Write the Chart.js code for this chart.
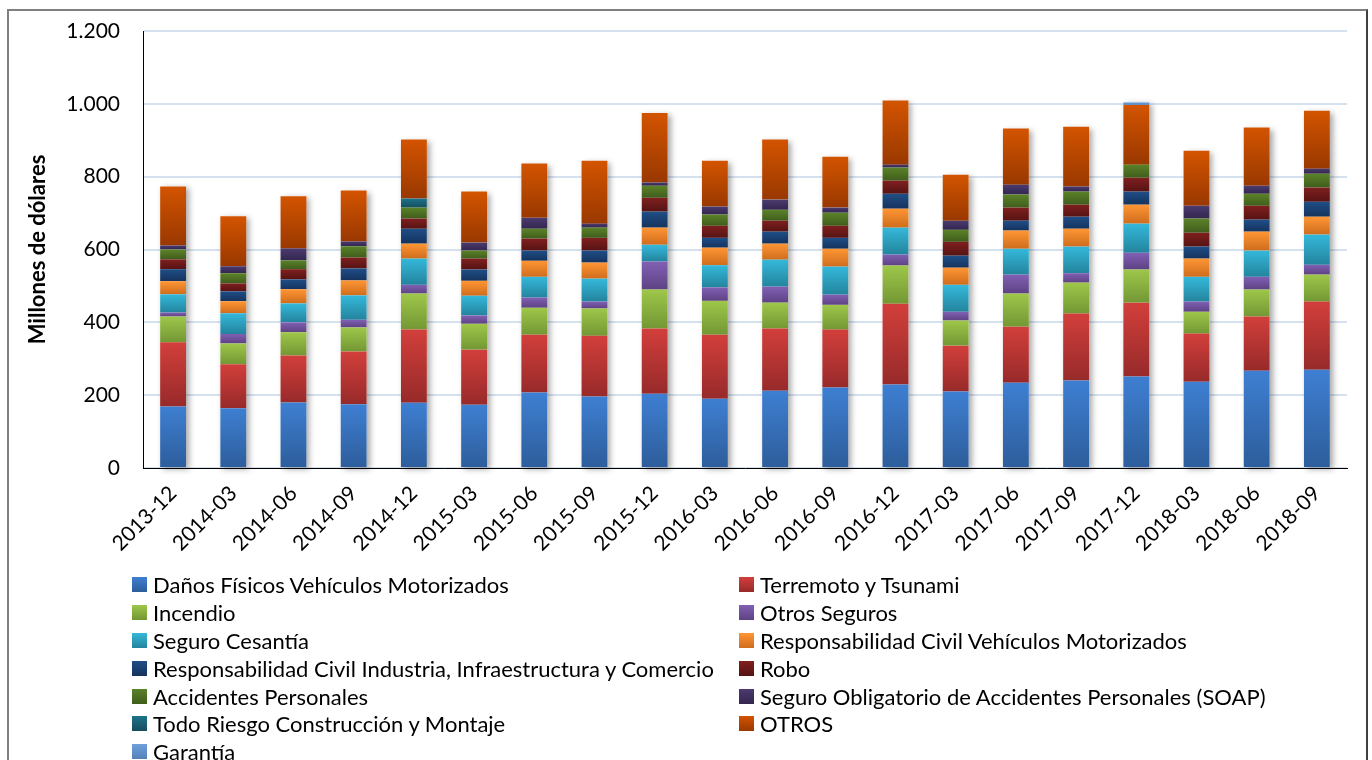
<!DOCTYPE html>
<html>
<head>
<meta charset="utf-8">
<script src="https://cdn.jsdelivr.net/npm/chart.js@4.4.1/dist/chart.umd.min.js"></script>
<style>
  body { margin: 0; background: #fff; width: 1372px; height: 760px; overflow: hidden; position: relative; font-family: Lato, "Open Sans", sans-serif; }
  #frame { position: absolute; left: 7px; top: 9px; width: 1357px; height: 800px; border: 2px solid #808080; border-right-color: #404040; }
  #wrap { position: absolute; left: 0; top: 0; width: 1372px; height: 760px; }
  #wrap canvas { display: block; }
  #legend { position: absolute; left: 132px; top: 571px; display: grid; grid-template-columns: 607px auto; grid-auto-rows: 27.8px; font-size: 22px; color: #000; }
  .item { display: flex; align-items: center; white-space: nowrap; }
  .box { width: 15px; height: 15px; margin-right: 6px; flex: none; }
</style>
</head>
<body>
<div id="frame"></div>
<div id="wrap"><canvas id="chart" width="1372" height="760"></canvas></div>
<div id="legend"></div>
<script>
const periods = ['2013-12','2014-03','2014-06','2014-09','2014-12','2015-03','2015-06','2015-09','2015-12','2016-03',
                 '2016-06','2016-09','2016-12','2017-03','2017-06','2017-09','2017-12','2018-03','2018-06','2018-09'];

// millones de dólares
const danos       = [169,164,180,175,179,174,207,196,204,190,212,221,229,210,234,240,251,237,267,270];
const terremoto   = [176,121,129,145,201,151,159,167,179,176,171,159,222,126,154,184,203,132,149,187];
const incendio    = [71,57,64,66,99,71,74,75,107,93,71,68,105,69,91,85,91,60,74,74];
const otrosSeg    = [11,26,27,21,24,23,28,19,77,37,44,28,30,24,52,26,46,28,35,27];
const cesantia    = [50,57,52,67,72,54,57,63,46,61,74,77,74,74,71,73,80,68,72,83];
const rcVehiculos = [36,33,39,41,41,41,44,44,47,48,44,49,52,47,50,49,52,50,52,49];
const rcIndustria = [33,27,27,33,41,31,28,33,44,27,33,30,41,33,27,33,36,33,33,41];
const robo        = [27,22,28,30,28,30,33,35,38,33,30,33,36,38,36,33,38,38,38,39];
const accPers     = [27,28,24,31,30,22,27,28,33,31,30,36,36,33,36,36,36,39,33,38];
const soap        = [11,19,33,13,0,22,30,11,9,22,28,14,8,25,27,14,0,35,22,14];
const todoRiesgo  = [0,0,0,0,25,0,0,0,0,0,0,0,0,0,0,0,0,0,0,0];
const otros       = [162,137,143,140,162,140,149,173,191,126,165,140,176,126,154,164,164,151,160,159];
const garantia    = [0,0,0,0,0,0,0,0,0,0,0,0,0,0,0,0,7,0,0,0];

const seriesNames = ['Daños Físicos Vehículos Motorizados','Terremoto y Tsunami','Incendio','Otros Seguros','Seguro Cesantía',
  'Responsabilidad Civil Vehículos Motorizados','Responsabilidad Civil Industria, Infraestructura y Comercio','Robo',
  'Accidentes Personales','Seguro Obligatorio de Accidentes Personales (SOAP)','Todo Riesgo Construcción y Montaje','OTROS','Garantía'];
const seriesData = [danos, terremoto, incendio, otrosSeg, cesantia, rcVehiculos, rcIndustria, robo, accPers, soap, todoRiesgo, otros, garantia];
// [claro arriba, oscuro abajo]
const seriesColors = [
  ['#3e7fd2','#2d5d9b'], ['#d23f3b','#972a2a'], ['#9ec74a','#739734'], ['#8160b4','#5d4283'],
  ['#35b8db','#23849d'], ['#ff9634','#cf6d1d'], ['#1f4e87','#15335d'], ['#801f1f','#561313'],
  ['#5b8229','#405d1c'], ['#4b3b70','#33264e'], ['#1e7389','#144e5d'], ['#d35400','#993800'],
  ['#6fa0da','#5380bb']
];

function segmentFill(ctx) {
  const ds = ctx.datasetIndex;
  const chart = ctx.chart;
  if (ctx.type !== 'data' || !chart.chartArea) return seriesColors[ds][0];
  const i = ctx.dataIndex;
  let base = 0;
  for (let k = 0; k < ds; k++) base += seriesData[k][i];
  const top = base + seriesData[ds][i];
  const y0 = chart.scales.y.getPixelForValue(top);
  const y1 = chart.scales.y.getPixelForValue(base);
  if (y1 - y0 < 1) return seriesColors[ds][0];
  const g = chart.ctx.createLinearGradient(0, y0, 0, y1);
  g.addColorStop(0, seriesColors[ds][0]);
  g.addColorStop(1, seriesColors[ds][1]);
  return g;
}

// soft shadow behind each whole stack
const stackShadow = {
  id: 'stackShadow',
  beforeDatasetsDraw(chart) {
    const metas = chart.getSortedVisibleDatasetMetas();
    const ctx = chart.ctx;
    ctx.save();
    ctx.shadowColor = 'rgba(0,0,0,0.35)';
    ctx.shadowBlur = 6;
    ctx.shadowOffsetX = 3;
    ctx.shadowOffsetY = 2;
    ctx.fillStyle = '#fff';
    metas[0].data.forEach((el, i) => {
      let topY = el.y;
      metas.forEach(m => {
        const e = m.data[i];
        if (Math.abs(e.base - e.y) > 0.5) topY = Math.min(topY, e.y);
      });
      ctx.fillRect(el.x - el.width / 2, topY, el.width, el.base - topY);
    });
    ctx.restore();
  }
};

const datasets = seriesNames.map((name, k) => ({
  label: name,
  data: seriesData[k],
  backgroundColor: segmentFill,
  borderWidth: 0,
  barPercentage: 0.43,
  categoryPercentage: 1
}));

new Chart(document.getElementById('chart'), {
  type: 'bar',
  data: { labels: periods, datasets },
  plugins: [stackShadow],
  options: {
    responsive: false,
    animation: false,
    layout: { padding: { left: 0, top: 31, right: 25, bottom: 0 } },
    plugins: { legend: { display: false }, tooltip: { enabled: false } },
    scales: {
      x: {
        stacked: true,
        z: 1,
        grid: { display: false },
        border: { color: '#000', width: 1 },
        ticks: { color: '#000', font: { family: 'Lato', size: 21 }, minRotation: 45, maxRotation: 45, padding: 5 },
        afterFit(scale) { scale.height = 760 - 468; }
      },
      y: {
        stacked: true,
        min: 0,
        max: 1200,
        grid: { color: '#d6e1f0', lineWidth: 2, drawTicks: false },
        border: { color: '#000', width: 1 },
        ticks: {
          stepSize: 200,
          padding: 23,
          color: '#000',
          font: { family: 'Lato', size: 21 },
          callback: v => String(v).replace(/\B(?=(\d{3})+(?!\d))/g, '.')
        },
        title: { display: true, text: 'Millones de dólares', color: '#000', font: { family: 'Lato', size: 22, weight: 'bold' }, padding: { top: 25, bottom: 0 } },
        afterFit(scale) {
          scale.width = 143;
          scale.paddingTop = 12;
          scale.paddingBottom = 12;
        }
      }
    }
  }
});

const legend = document.getElementById('legend');
seriesNames.forEach((name, k) => {
  const item = document.createElement('div');
  item.className = 'item';
  const box = document.createElement('span');
  box.className = 'box';
  box.style.background = `linear-gradient(${seriesColors[k][0]}, ${seriesColors[k][1]})`;
  const txt = document.createElement('span');
  txt.textContent = name;
  item.appendChild(box);
  item.appendChild(txt);
  legend.appendChild(item);
});
</script>
</body>
</html>
